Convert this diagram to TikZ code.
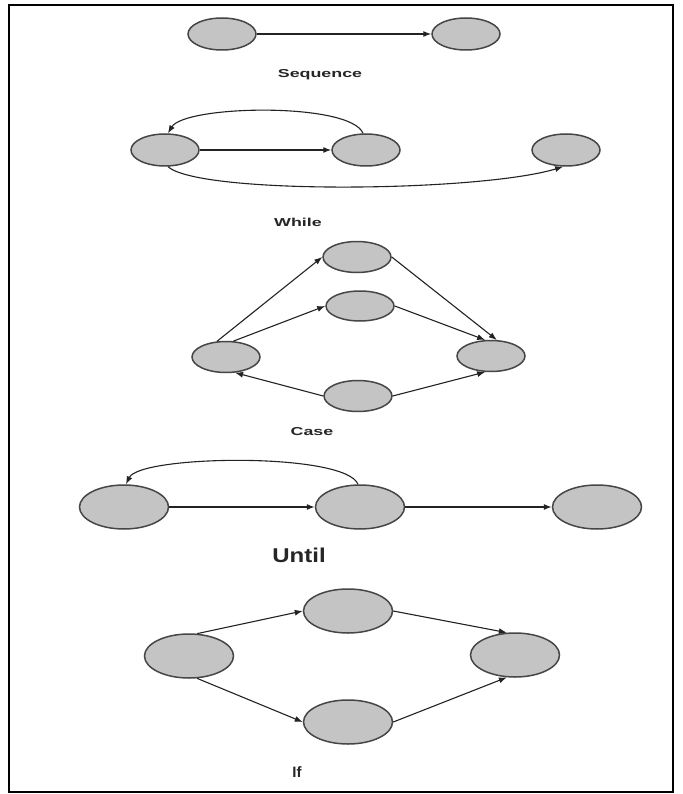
\documentclass[tikz,border=0pt]{standalone}
\usepackage{fontspec}
\setmainfont{Liberation Sans}
\usetikzlibrary{shapes.geometric,arrows.meta}
\definecolor{nodefill}{RGB}{196,196,196}
\definecolor{nodeline}{RGB}{70,70,70}
\definecolor{edgecol}{RGB}{35,35,35}
\tikzset{
  st/.style={ellipse,draw=nodeline,fill=nodefill,line width=1.5pt,inner sep=0pt},
  sm/.style={st,minimum width=68pt,minimum height=32pt},
  bg/.style={st,minimum width=89pt,minimum height=44pt},
  ed/.style={draw=edgecol,line width=1.1pt,-{Latex[length=8pt,width=6pt]}},
  lab/.style={font=\bfseries\fontsize{11.5}{13}\selectfont,text=black!85},
}
\newcommand{\wide}[1]{\scalebox{1.55}[1]{#1}}
\begin{document}
\begin{tikzpicture}[x=1pt,y=-1pt]
\useasboundingbox (0,0) rectangle (682,794);
\fill[white] (0,0) rectangle (682,794);
\draw[line width=1.5pt] (9,5) rectangle (673,792);
% Sequence
\node[sm] (s1) at (222,34) {};
\node[sm] (s2) at (466,34) {};
\draw[ed] (s1) -- (s2);
\node[lab] (ls) at (320,75) {\wide{Sequence}};
% While
\node[sm] (w1) at (165,150) {};
\node[sm] (w2) at (366,150) {};
\node[sm] (w3) at (566,150) {};
\draw[ed] (w1) -- (w2);
\draw[ed] (w2.100) .. controls (350,102) and (185,105) .. (w1.80);
\draw[ed] (w1.-80) .. controls (200,195) and (480,192) .. (w3.-100);
\node[lab] (lw) at (298,222) {\wide{While}};
% Case
\node[sm,minimum height=31pt] (ct) at (357,257) {};
\node[sm,minimum height=30pt] (cm) at (360,306) {};
\node[sm,minimum height=31pt] (cl) at (226,357) {};
\node[sm,minimum height=31pt] (cr) at (491,356) {};
\node[sm,minimum height=31pt] (cb) at (358,396) {};
\draw[ed] (cl.120) -- (ct.west);
\draw[ed] (cl.65) -- (cm.west);
\draw[ed] (ct.east) -- (cr.70);
\draw[ed] (cm.east) -- (cr.110);
\draw[ed] (cb.west) -- (cl.-60);
\draw[ed] (cb.east) -- (cr.-110);
\node[lab] (lc) at (312,432) {\wide{Case}};
% Until
\node[bg] (u1) at (124,507) {};
\node[bg] (u2) at (360,507) {};
\node[bg] (u3) at (597,507) {};
\draw[ed] (u1) -- (u2);
\draw[ed] (u2) -- (u3);
\draw[ed] (u2.95) .. controls (345,452) and (140,455) .. (u1.85);
\node[font=\bfseries\fontsize{20}{24}\selectfont,text=black!85] (lu) at (299,555) {\scalebox{1.2}[1]{Until}};
% If
\node[bg] (i1) at (189,656) {};
\node[bg] (i2) at (348,611) {};
\node[bg] (i3) at (348,722) {};
\node[bg] (i4) at (515,655) {};
\draw[ed] (i1.70) -- (i2.west);
\draw[ed] (i2.east) -- (i4.110);
\draw[ed] (i1.-70) -- (i3.west);
\draw[ed] (i3.east) -- (i4.-110);
\node[font=\bfseries\fontsize{15}{18}\selectfont,text=black!85] (li) at (297,772) {If};
\end{tikzpicture}
\end{document}
